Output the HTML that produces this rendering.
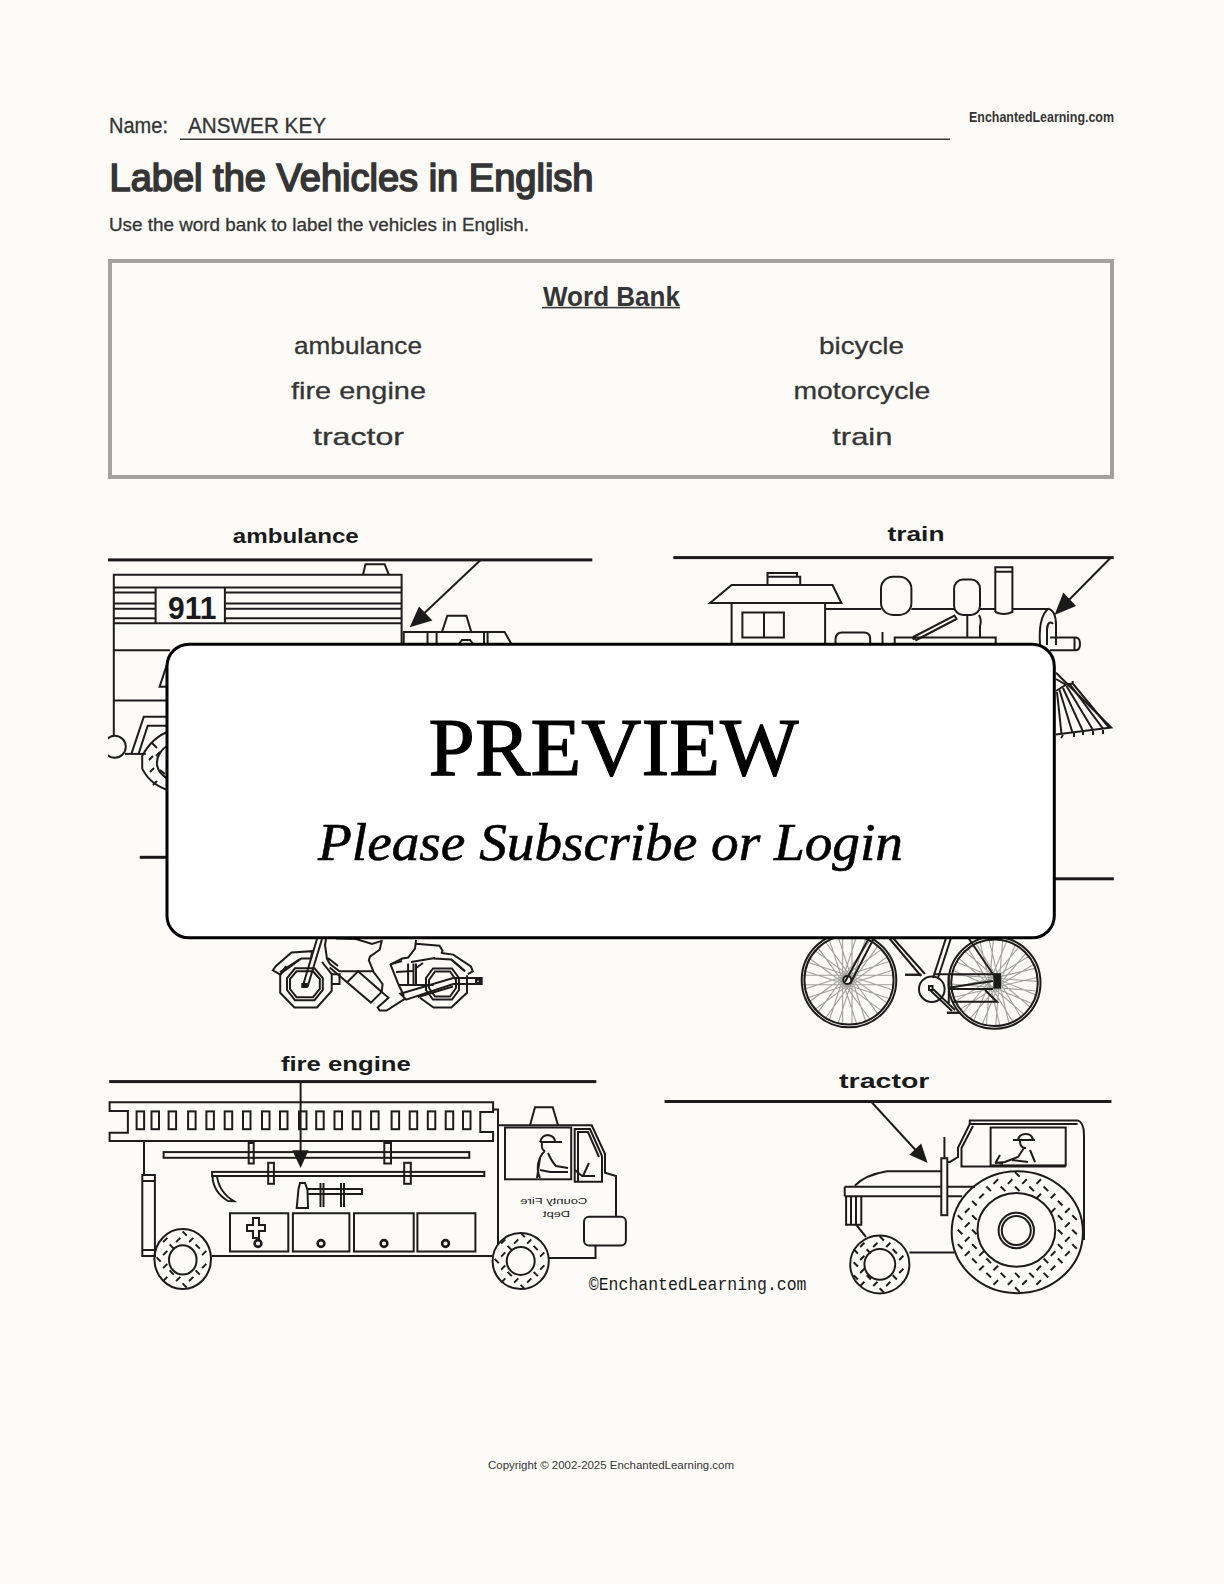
<!DOCTYPE html>
<html>
<head>
<meta charset="utf-8">
<style>
html,body{margin:0;padding:0;background:#fcfbf7;}
body{width:1224px;height:1584px;overflow:hidden;position:relative;font-family:"Liberation Sans",sans-serif;}
svg{position:absolute;left:0;top:0;}
.t{font-family:"Liberation Sans",sans-serif;fill:#353535;}
.r{stroke:#353535;stroke-width:0.3;}
.d{fill:none;stroke:#1c1c1c;stroke-width:2;}
</style>
</head>
<body>
<svg width="1224" height="1584" viewBox="0 0 1224 1584">
<!-- header -->
<text class="t r" x="109" y="132.7" font-size="21.4" textLength="59" lengthAdjust="spacingAndGlyphs">Name:</text>
<text class="t r" x="188" y="132.7" font-size="21.4" textLength="138" lengthAdjust="spacingAndGlyphs">ANSWER KEY</text>
<rect x="180" y="138.5" width="770" height="1.5" fill="#3a3a3a"/>
<text class="t" x="969" y="122.4" font-size="14" font-weight="bold" textLength="145" lengthAdjust="spacingAndGlyphs">EnchantedLearning.com</text>
<text class="t" x="109.5" y="190.9" font-size="38.5" stroke="#353535" stroke-width="1.7" textLength="484" lengthAdjust="spacingAndGlyphs">Label the Vehicles in English</text>
<text class="t r" x="109" y="230.7" font-size="17.7" textLength="420" lengthAdjust="spacingAndGlyphs">Use the word bank to label the vehicles in English.</text>

<!-- word bank -->
<rect x="110" y="261" width="1002" height="216" fill="none" stroke="#a3a29e" stroke-width="4"/>
<text class="t" x="543" y="306.3" font-size="28" font-weight="bold" textLength="137" lengthAdjust="spacingAndGlyphs">Word Bank</text>
<rect x="542" y="306.8" width="138" height="1.6" fill="#3a3a3a"/>
<text class="t r" x="294" y="354.4" font-size="24" textLength="128" lengthAdjust="spacingAndGlyphs">ambulance</text>
<text class="t r" x="291" y="399.3" font-size="24" textLength="135" lengthAdjust="spacingAndGlyphs">fire engine</text>
<text class="t r" x="313" y="444.5" font-size="24" textLength="91" lengthAdjust="spacingAndGlyphs">tractor</text>
<text class="t r" x="819" y="354.4" font-size="24" textLength="85" lengthAdjust="spacingAndGlyphs">bicycle</text>
<text class="t r" x="793.4" y="399.3" font-size="24" textLength="137" lengthAdjust="spacingAndGlyphs">motorcycle</text>
<text class="t r" x="832.3" y="444.5" font-size="24" textLength="60" lengthAdjust="spacingAndGlyphs">train</text>

<!-- DRAWINGS -->
<g id="drawings">

<!-- ambulance -->
<text x="232.8" y="543.1" font-size="21" font-weight="bold" fill="#1a1a1a" textLength="126" lengthAdjust="spacingAndGlyphs">ambulance</text>
<rect x="108" y="558.4" width="484.3" height="3" fill="#1a1a1a"/>
<line class="d" x1="480.6" y1="560" x2="416" y2="621" stroke-width="1.6"/>
<polygon points="409.7,627.2 419,606.6 432.4,620.4" fill="#1a1a1a"/>
<clipPath id="cl"><rect x="108" y="500" width="1006" height="900"/></clipPath>
<g clip-path="url(#cl)">
<path class="d" d="M113.8,735.6 V574.8 H401.6 V650"/>
<path class="d" d="M363,574.8 L365.5,564.2 H384.6 L388.9,574.8"/>
<path class="d" d="M113.8,587.5 H401.6 M113.8,592.4 H155.6 M224.9,592.4 H401.6 M113.8,603.5 H155.6 M224.9,603.5 H401.6 M113.8,608.8 H155.6 M224.9,608.8 H401.6 M113.8,618.3 H155.6 M224.9,618.3 H401.6 M113.8,623.2 H401.6"/>
<path class="d" d="M155.6,587.5 V623.2 M224.9,587.5 V623.2"/>
<text x="168" y="618.8" font-size="31.5" font-weight="bold" fill="#1a1a1a" textLength="48.4" lengthAdjust="spacingAndGlyphs">911</text>
<path class="d" d="M113.8,650.2 H170 M113.8,700.4 H170"/>
<path class="d" d="M170,655 L159.6,686.7 H170"/>
<path class="d" d="M170,716.7 H143.8 L131.4,753.9 M170,725.8 H147.7 L138.6,753.9"/>
<circle class="d" cx="114.8" cy="746.8" r="11"/>
<path class="d" d="M125,753.9 H145.8"/>
<path class="d" d="M170,731 C158,735 148,745 142.2,756 V768.6 C148,780 156,786 170,791"/>
<path class="d" d="M170,744 C161,749 156,757 157,765 C158,771 162,776 170,780"/>
<path class="d" d="M152,743 l5,5 M160,752 l-4,4 M149,760 l4,-4 M150,772 l4,-4 M153,785 l4,-4 M160,770 l5,4"  stroke-width="1.3"/>
<path class="d" d="M403.7,645 V632.1 H504.6 L512,645 M427.5,632.1 V645 M436.6,632.1 V645 M484,632.1 V645 M487.6,632.1 V645"/>
<path class="d" d="M442,632.1 L447.3,615.8 H466.4 L471.3,632.1"/>
<path class="d" d="M458,645 L462,640 H470 L474,645" stroke-width="1.5"/>
</g>
</g>

<g clip-path="url(#cl)">
<!-- train -->
<text x="887.5" y="541.4" font-size="21" font-weight="bold" fill="#1a1a1a" textLength="57" lengthAdjust="spacingAndGlyphs">train</text>
<rect x="673.3" y="556.1" width="440.4" height="3" fill="#1a1a1a"/>
<line class="d" x1="1110.4" y1="558" x2="1060" y2="609" stroke-width="1.6"/>
<polygon points="1054.5,614.9 1063.3,592.4 1076,606" fill="#1a1a1a"/>
<path class="d" d="M710,603.1 L731.6,585.1 H832.5 L841.4,603.1 Z"/>
<path class="d" d="M767.5,585.1 V576.7 H800.2 V585.1 Z M767.5,576.7 V573 H797 V576.7"/>
<path class="d" d="M731.6,603.1 V645 M825.1,603.1 V645"/>
<path class="d" d="M742.4,612.4 H783.9 V637.5 H742.4 Z M764,612.4 V637.5"/>
<path class="d" d="M825.1,609 H881 M911.4,609 H954.1 M980,609 H995.3 M1012.4,609 H1048"/>
<rect class="d" x="881" y="576.7" width="30.4" height="38.2" rx="12" ry="12"/>
<rect class="d" x="954.1" y="579.6" width="25.9" height="35.3" rx="9" ry="9"/>
<path class="d" d="M995.3,612 V567.3 H1012.4 V612 Q1004,616 995.3,612 M995.3,571.8 H1012.4"/>
<path class="d" d="M1048,608.6 C1054,610 1056,616 1056,625 V645 M1040,645 C1039,630 1041,615 1048,609 M1047,645 V630 C1047,624 1050,620 1053,624"/>
<path class="d" d="M1050,637.5 H1076 Q1080,638 1080,644 Q1080,650 1076,650.2 H1050 M1074.5,637.5 V650.2"/>
<path class="d" d="M835.5,645 V639 Q836,632.5 842,632.5 H864 Q870.2,632.5 870.2,639 V645"/>
<path class="d" d="M882.5,632 V645"/>
<path class="d" d="M894.7,645 V637.5 H995.7 V645"/>
<path class="d" d="M913.3,637 L954.5,615.5 L956.5,619 L915.3,640.5" stroke-width="1.5"/>
<circle cx="914" cy="638" r="2" fill="#1a1a1a"/>
<path class="d" d="M967.3,614.9 V637.5 M979,614.9 Q982,620 980,626 V637.5"/>
<g stroke-width="1.6">
<path class="d" d="M1056,672.7 L1111.2,727.5 L1056,734.6"/>
<path class="d" d="M1056,679 L1066.5,685.1 M1056,691 L1066.5,684.5 L1072.7,683.5 V681 M1072.7,683.5 L1109,727.5"/>
<path class="d" d="M1057,692 L1061.5,734 M1059.5,690 L1072.5,732.7 M1063,688 L1083,731.4 M1066.5,686 L1093,730 M1070,684.5 L1103,728.6"/>
<path class="d" d="M1063,735 l-2,3 M1074,733 v4 M1083,732 v3 M1093,731 v4 M1103,730 v4" stroke-width="1.5"/>
</g>
</g>
<g clip-path="url(#cl)">
<!-- motorcycle -->
<rect x="139.8" y="855.8" width="460" height="3" fill="#1a1a1a"/>
<g stroke-width="1.5">
<path class="d" d="M322,962 L331.7,974.2 V990.9 L317,1007.5 H294.4 L280.2,992.8 V975.2 L286,966"/>
<path class="d" d="M295,1000.2 H314.5 L322.8,990 V978 L314.5,968.3 H295 L287,978 V990 Z" stroke-width="1.3"/>
<path class="d" d="M296.5,997.2 H313 L319.8,989 V979 L313,971.3 H296.5 L290,979 V989 Z" stroke-width="1.3"/>
<path class="d" d="M272.8,970.3 L276,966 L291.5,952.6 L312.1,951.2 L311.1,958.5 L301.3,958.5 L279.7,974.2 Z" fill="#fcfbf7"/>
<path class="d" d="M280,972 L300,959" stroke-width="2.5"/>
<path class="d" d="M302.5,987 L317,939 M307.5,987 L322,939" fill="none"/>
<rect x="301.3" y="983" width="6.5" height="5" fill="#1a1a1a"/>
<path class="d" d="M326,939 L325,945 L327,959 L330,964 L339.5,971.3 H373.8 M328,958 L338,966"/>
<path class="d" d="M331.7,974.2 H339.5 V984 H331.7"/>
<path class="d" d="M329.7,967.4 L370.9,1002.6 L381.7,991.9 L358.1,971.3 L346.4,983"/>
<path class="d" d="M336,938.5 L356,939 L372,944 L381.7,940.9 L379.7,949.7 L369.9,956.6 L368.9,960.5 L373.8,972.3 L382.6,984 L381.7,991.9 L388.5,997.7 L377.7,1007.5 L379.7,1010.5 L386.6,1010.5 L405.2,998.7"/>
<path class="d" d="M416,939.9 L415,948.7 L408.1,957.5 L402.3,958.5 L390.5,964.4 L398.3,984 L404,996 M416,943.8 L439.5,945.8 L442.5,950.7 L441.5,953.6"/>
<path class="d" d="M390.5,964.4 L402,961 M411,962 L435,958"  stroke-width="2.5"/>
<path class="d" d="M396,972 L413,971 M416,968 L423,963"/>
<path class="d" d="M441.5,953.1 L453.2,954.6 L470.9,966.4 L472.8,971.3 L467.9,974.2 M433.6,958.5 L451.3,959.5 L465,971.3"/>
<path class="d" d="M451.3,959.5 L465,971.3" stroke-width="2.6"/>
<path class="d" d="M408.1,963.4 V984 M413.5,963.4 V984 M416,963.4 V984"/>
<path class="d" d="M398.3,985 H433.6" stroke-width="2.6"/>
<path class="d" d="M419.9,997.7 L433.6,1007.5 H451.3 L467,992.8 V975.2"/>
<path class="d" d="M426,990 V978 L433,968.5 H452 L459,978 V990 L452,999.5 H433 Z" stroke-width="1.3"/>
<path class="d" d="M429,988 V980 L435,971.5 H450 L456,980 V988 L450,996.5 H435 Z" stroke-width="1.3"/>
<path class="d" d="M400.3,993.8 L453.2,978.1 H481.7 V984 H453.2 L406.2,999.7 Z" fill="#fcfbf7"/>
<rect class="d" x="476" y="979.8" width="4" height="2.8" stroke-width="1.2"/>
<path class="d" d="M418,997 L453,986.5" stroke-width="1.3"/>
</g>
<!-- bicycle -->
<rect x="640" y="877.3" width="473.9" height="3" fill="#1a1a1a"/>
<g stroke="#a0a0a0" stroke-width="1.1" fill="none"><path d="M802.5,984.7L892.1,984.7M802.5,975.3L892.1,975.3M803.3,970.6L888.4,998.3M806.2,961.7L891.3,989.4M808.3,957.5L880.7,1010.1M813.9,949.9L886.3,1002.5M817.2,946.6L869.8,1019.0M824.8,941.0L877.4,1013.4M829.0,938.9L856.7,1024.0M837.9,936.0L865.6,1021.1M842.6,935.2L842.6,1024.8M852.0,935.2L852.0,1024.8M856.7,936.0L829.0,1021.1M865.6,938.9L837.9,1024.0M869.8,941.0L817.2,1013.4M877.4,946.6L824.8,1019.0M880.7,949.9L808.3,1002.5M886.3,957.5L813.9,1010.1M888.4,961.7L803.3,989.4M891.3,970.6L806.2,998.3"/><path d="M950.5,984.0L1037.7,991.0M951.3,974.6L1038.5,981.6M952.3,970.3L1033.1,1003.9M955.9,961.7L1036.7,995.3M958.2,957.9L1024.7,1014.8M964.3,950.8L1030.8,1007.7M967.7,947.9L1013.3,1022.6M975.7,943.0L1021.3,1017.7M979.8,941.3L1000.1,1026.4M988.9,939.2L1009.2,1024.3M993.3,938.8L986.3,1026.0M1002.7,939.6L995.7,1026.8M1007.0,940.6L973.4,1021.4M1015.6,944.2L982.0,1025.0M1019.4,946.5L962.5,1013.0M1026.5,952.6L969.6,1019.1M1029.4,956.0L954.7,1001.6M1034.3,964.0L959.6,1009.6M1036.0,968.1L950.9,988.4M1038.1,977.2L953.0,997.5"/></g>
<g>
<circle class="d" cx="849" cy="980" r="47.3" stroke-width="2.6"/>
<circle class="d" cx="849" cy="980" r="44.6" stroke-width="1.2" stroke="#666"/>
<circle class="d" cx="994.5" cy="982.8" r="46" stroke-width="2.6"/>
<circle class="d" cx="994.5" cy="982.8" r="43.3" stroke-width="1.2" stroke="#666"/>
<path class="d" d="M845,982 L869,938 M850,984 L874,938" stroke-width="1.5"/>
<circle class="d" cx="847.3" cy="980" r="4" stroke-width="1.5"/>
<path class="d" d="M889,938 L921,976 M893,938 L925,974" stroke-width="1.2"/>
<circle class="d" cx="931.8" cy="989.2" r="12.8" stroke-width="2"/>
<rect class="d" x="929" y="986" width="3.5" height="4" stroke-width="1.2"/>
<path class="d" d="M946,938 L933,978 M951,938 L938,978" stroke-width="2"/>
<path class="d" d="M934.4,974.2 H1001.1 M950,987.5 L993,981 M952.7,1001.7 H997 L985,990 M948.8,974 V1003" stroke-width="2.8"/><rect x="993.3" y="973.6" width="7.8" height="15" fill="#1a1a1a"/><path class="d" d="M950,989 H993" stroke-width="1.6"/>
<path class="d" d="M968.4,938 L993,974.2" stroke-width="2.8"/>
<path class="d" d="M905,974.8 H921.4 M946.9,1012.7 H960.6" stroke-width="3.5" stroke="#444"/>
<path class="d" d="M905,974.8 H921.4 M946.9,1012.7 H960.6" stroke-width="1.4" stroke="#fcfbf7"/>
<path class="d" d="M930,990 L952,1011 M933,989 L955,1010" stroke-width="1" stroke="#555"/>
</g>
</g>
<g clip-path="url(#cl)">
<!-- fire engine -->
<text x="280.9" y="1070.9" font-size="21" font-weight="bold" fill="#1a1a1a" textLength="130" lengthAdjust="spacingAndGlyphs">fire engine</text>
<rect x="109.2" y="1080.1" width="487.1" height="3" fill="#1a1a1a"/>
<line class="d" x1="300.6" y1="1082" x2="300.6" y2="1152" stroke-width="1.6"/>
<polygon points="292.2,1150.3 308.6,1150.3 300.6,1168.1" fill="#1a1a1a"/>
<g stroke-width="1.8">
<path class="d" d="M109.6,1102.2 H493.1 V1112 H480.3 V1131.9 H493.1 V1141.1 H109.6 V1132.7 H127.9 V1110.9 H109.6 Z"/>
<rect class="d" x="136.6" y="1111.4" width="7.5" height="17.8" stroke-width="1.6"/><rect class="d" x="151.5" y="1111.4" width="7.5" height="17.8" stroke-width="1.6"/><rect class="d" x="168.6" y="1111.4" width="7.5" height="17.8" stroke-width="1.6"/><rect class="d" x="188.1" y="1111.4" width="7.5" height="17.8" stroke-width="1.6"/><rect class="d" x="206.4" y="1111.4" width="7.5" height="17.8" stroke-width="1.6"/><rect class="d" x="224.7" y="1111.4" width="7.5" height="17.8" stroke-width="1.6"/><rect class="d" x="243.0" y="1111.4" width="7.5" height="17.8" stroke-width="1.6"/><rect class="d" x="262.0" y="1111.4" width="7.5" height="17.8" stroke-width="1.6"/><rect class="d" x="280.0" y="1111.4" width="7.5" height="17.8" stroke-width="1.6"/><rect class="d" x="299.0" y="1111.4" width="7.5" height="17.8" stroke-width="1.6"/><rect class="d" x="316.2" y="1111.4" width="7.5" height="17.8" stroke-width="1.6"/><rect class="d" x="334.5" y="1111.4" width="7.5" height="17.8" stroke-width="1.6"/><rect class="d" x="352.8" y="1111.4" width="7.5" height="17.8" stroke-width="1.6"/><rect class="d" x="371.1" y="1111.4" width="7.5" height="17.8" stroke-width="1.6"/><rect class="d" x="391.6" y="1111.4" width="7.5" height="17.8" stroke-width="1.6"/><rect class="d" x="409.7" y="1111.4" width="7.5" height="17.8" stroke-width="1.6"/><rect class="d" x="427.8" y="1111.4" width="7.5" height="17.8" stroke-width="1.6"/><rect class="d" x="445.7" y="1111.4" width="7.5" height="17.8" stroke-width="1.6"/><rect class="d" x="463.0" y="1111.4" width="7.5" height="17.8" stroke-width="1.6"/>
<path class="d" d="M144,1141 V1175"/>
<path class="d" d="M142.3,1256.1 V1174.9 H154.9 V1256.1 Z M142.3,1181 H154.9 M142.3,1250 H154.9"/>
<rect class="d" x="163.6" y="1152.1" width="305.7" height="5.7" stroke-width="1.6"/>
<rect class="d" x="248.7" y="1143" width="5" height="20.5" fill="#fcfbf7" stroke-width="1.6"/>
<rect class="d" x="384.3" y="1143" width="6.7" height="20.5" fill="#fcfbf7" stroke-width="1.6"/>
<rect class="d" x="212.1" y="1171.9" width="272.2" height="4.1" stroke-width="1.6"/>
<rect class="d" x="268.2" y="1162.8" width="5.7" height="21" fill="#fcfbf7" stroke-width="1.6"/>
<rect class="d" x="404.2" y="1162.8" width="6.6" height="21" fill="#fcfbf7" stroke-width="1.6"/>
<path class="d" d="M217,1176 Q219,1192 233.8,1201.2 L228,1201 Q213,1192 212.5,1176"/>
<path class="d" d="M296.7,1208 L298.5,1189 L300,1183 H305 L307.5,1190 L308,1208 Z M308,1189 H362 V1194 H308 M320.5,1183 V1207 M323.5,1183 V1207 M341,1183 V1207 M344,1183 V1207" stroke-width="1.6"/>
<path class="d" d="M230,1213.3 H288.3 V1251.5 H230 Z M292.9,1213.3 H349.4 V1251.5 H292.9 Z M354,1213.3 H413.7 V1251.5 H354 Z M417.4,1213.3 H475.4 V1251.5 H417.4 Z"/>
<path class="d" d="M253,1218 H259 V1225 H265 V1231 H259 V1238 H253 V1231 H247 V1225 H253 Z" stroke-width="1.5"/>
<circle cx="258" cy="1243.5" r="3.4" fill="#fcfbf7" stroke="#1a1a1a" stroke-width="2.6"/>
<circle cx="321" cy="1243.5" r="3.4" fill="#fcfbf7" stroke="#1a1a1a" stroke-width="2.6"/>
<circle cx="384" cy="1243.5" r="3.4" fill="#fcfbf7" stroke="#1a1a1a" stroke-width="2.6"/>
<circle cx="445.5" cy="1243.5" r="3.4" fill="#fcfbf7" stroke="#1a1a1a" stroke-width="2.6"/>
<path class="d" d="M155,1256.1 H156 M211.5,1256.1 H492.5"/>
<path class="d" d="M493.1,1109.4 H498 V1244 M498,1125.3 H591.7 L605,1154 V1172.7 L616,1176 V1216.8"/>
<path class="d" d="M574.7,1181.8 V1129 H590 L602,1156 V1181.8 Z M578,1181.8 V1132 H588 L599,1157" stroke-width="1.5"/>
<rect class="d" x="505" y="1127.5" width="66.2" height="51.8"/>
<path class="d" d="M530,1125.3 L535,1107.2 H552.7 L558,1125.3"/>
<path class="d" d="M540,1142 Q542,1135 548,1135 Q555,1136 555,1142 H562 M540,1142 H555 M542,1143 Q541,1150 545,1151 M545,1151 Q540,1155 538,1164 Q537,1172 540,1178 M548,1153 Q552,1162 556,1166 L568,1168 M540,1170 L550,1172 L568,1172 M540,1158 L537,1178 M575,1170 L582,1176 L595,1176 M589,1163 L583,1176" stroke-width="1.4"/>
<text transform="translate(587.3,1203.5) scale(-1,1)" font-size="9.5" fill="#1a1a1a" textLength="67" lengthAdjust="spacingAndGlyphs">County Fire</text>
<text transform="translate(570,1217) scale(-1,1)" font-size="9.5" fill="#1a1a1a" textLength="27" lengthAdjust="spacingAndGlyphs">Dept</text>
<rect class="d" x="584" y="1216.8" width="41.9" height="28.7" rx="5" ry="5"/>
<path class="d" d="M548.7,1258.1 H595.5 V1245.5"/>
<ellipse class="d" cx="182.7" cy="1259" rx="28.3" ry="30" fill="#fcfbf7"/>
<ellipse class="d" cx="182.8" cy="1259.9" rx="13.8" ry="14.7"/>
<circle class="d" cx="520.7" cy="1261" r="28.1" fill="#fcfbf7"/>
<circle class="d" cx="520.7" cy="1261" r="14"/>
<path class="d" stroke-width="1.2" d="M182.6,1231.4L186.8,1235.6M163.1,1242.1L167.3,1237.9M176.1,1242.1L180.3,1237.9M189.1,1242.1L193.3,1237.9M169.6,1244.4L173.8,1248.6M195.6,1244.4L199.8,1248.6M163.1,1255.1L167.3,1250.9M202.1,1255.1L206.3,1250.9M156.6,1257.4L160.8,1261.6M163.1,1268.1L167.3,1263.9M202.1,1268.1L206.3,1263.9M169.6,1270.4L173.8,1274.6M195.6,1270.4L199.8,1274.6M163.1,1281.1L167.3,1276.9M176.1,1281.1L180.3,1276.9M189.1,1281.1L193.3,1276.9M182.6,1283.4L186.8,1287.6"/>
<path class="d" stroke-width="1.2" d="M520.6,1232.9L524.8,1237.1M501.1,1243.6L505.3,1239.4M514.1,1243.6L518.3,1239.4M527.1,1243.6L531.3,1239.4M507.6,1245.9L511.8,1250.1M533.6,1245.9L537.8,1250.1M501.1,1256.6L505.3,1252.4M540.1,1256.6L544.3,1252.4M494.6,1258.9L498.8,1263.1M501.1,1269.6L505.3,1265.4M540.1,1269.6L544.3,1265.4M507.6,1271.9L511.8,1276.1M533.6,1271.9L537.8,1276.1M501.1,1282.6L505.3,1278.4M514.1,1282.6L518.3,1278.4M527.1,1282.6L531.3,1278.4M520.6,1284.9L524.8,1289.1"/>
</g>
<text x="588.8" y="1289.8" font-family="Liberation Mono" font-size="18.5" fill="#1a1a1a" textLength="217.7" lengthAdjust="spacingAndGlyphs">©EnchantedLearning.com</text>

<!-- tractor -->
<text x="839" y="1088.4" font-size="21" font-weight="bold" fill="#1a1a1a" textLength="90.5" lengthAdjust="spacingAndGlyphs">tractor</text>
<rect x="664.5" y="1100" width="447" height="3" fill="#1a1a1a"/>
<line class="d" x1="871.5" y1="1102" x2="921" y2="1156" stroke-width="1.6"/>
<polygon points="927.6,1163 909.4,1154.8 921.2,1143.4" fill="#1a1a1a"/>
<g stroke-width="1.8">
<path class="d" d="M969.8,1124 V1120.4 H1077.6 Q1084,1122 1084,1135 V1240"/>
<path class="d" d="M969.8,1124 H1077.6"/>
<path class="d" d="M969.8,1124 L958,1147.7 V1157 L950,1161.9 H947.3 M973,1126 L961.5,1148 V1166.6 H1065.7"/>
<rect class="d" x="990.6" y="1127.5" width="75.1" height="37.9"/>
<path class="d" d="M1018,1140 Q1019,1134 1026,1134 Q1032,1134 1033,1140 M1013,1140 H1035 M1020,1141 Q1020,1148 1026,1148 M1024,1148 L1018,1157 L1005,1162 L995,1163 M1030,1150 L1035,1162 M1000,1155 L996,1162 L1003,1164 M1012,1160 L1028,1162" stroke-width="1.4"/>
<rect class="d" x="941.3" y="1158.3" width="6" height="56.9" fill="#fcfbf7"/>
<path class="d" d="M944.4,1137 V1158.3" stroke-width="2"/>
<path class="d" d="M854.9,1185.6 Q865,1175 886.9,1171.3 H941.3"/>
<path class="d" d="M844.7,1186.7 H941.3 M947.3,1186.7 H975 M844.7,1196.2 H941.3 M947.3,1196.2 H962 M844.7,1186.7 V1196.2"/>
<path class="d" d="M846.1,1196.2 V1224.7 H861.3 V1196.2 M851,1196.2 V1224.7 M856,1196.2 V1224.7" stroke-width="1.5"/>
<path class="d" d="M856,1224.7 L866,1237"/>
<path class="d" d="M909.4,1252.4 H954.4"/>
<ellipse class="d" cx="879.8" cy="1264.4" rx="29.6" ry="29" fill="#fcfbf7"/>
<circle class="d" cx="879.8" cy="1264.4" r="15.4"/>
<ellipse class="d" cx="1017.3" cy="1232.2" rx="65.6" ry="61" fill="#fcfbf7"/>
<ellipse class="d" cx="1016.4" cy="1229.9" rx="38.9" ry="36.9" fill="#fcfbf7"/>
<circle class="d" cx="1016.3" cy="1230.5" r="17.7"/>
<circle class="d" cx="1016.3" cy="1230.5" r="14.5"/>
<path class="d" stroke-width="1.2" d="M879.7,1236.3L883.9,1240.5M860.2,1247.0L864.4,1242.8M873.2,1247.0L877.4,1242.8M886.2,1247.0L890.4,1242.8M853.7,1249.3L857.9,1253.5M866.7,1249.3L870.9,1253.5M892.7,1249.3L896.9,1253.5M860.2,1260.0L864.4,1255.8M899.2,1260.0L903.4,1255.8M853.7,1262.3L857.9,1266.5M860.2,1273.0L864.4,1268.8M899.2,1273.0L903.4,1268.8M853.7,1275.3L857.9,1279.5M866.7,1275.3L870.9,1279.5M892.7,1275.3L896.9,1279.5M860.2,1286.0L864.4,1281.8M873.2,1286.0L877.4,1281.8M886.2,1286.0L890.4,1281.8M879.7,1288.3L883.9,1292.5"/>
<path class="d" stroke-width="1.2" d="M1015.0,1172.1L1019.6,1176.7M993.5,1183.9L998.1,1179.3M1007.9,1183.9L1012.4,1179.3M1022.2,1183.9L1026.8,1179.3M1036.5,1183.9L1041.0,1179.3M986.4,1186.5L991.0,1191.1M1000.7,1186.5L1005.3,1191.1M1015.0,1186.5L1019.6,1191.1M1029.3,1186.5L1033.9,1191.1M1043.6,1186.5L1048.2,1191.1M979.2,1198.3L983.8,1193.7M1036.5,1198.3L1041.0,1193.7M1050.8,1198.3L1055.3,1193.7M972.1,1200.9L976.7,1205.5M1057.9,1200.9L1062.5,1205.5M964.9,1212.7L969.5,1208.1M1050.8,1212.7L1055.3,1208.1M1065.1,1212.7L1069.7,1208.1M957.8,1215.3L962.4,1219.9M972.1,1215.3L976.7,1219.9M1057.9,1215.3L1062.5,1219.9M1072.2,1215.3L1076.8,1219.9M964.9,1227.1L969.5,1222.5M1065.1,1227.1L1069.7,1222.5M957.8,1229.7L962.4,1234.3M972.1,1229.7L976.7,1234.3M1057.9,1229.7L1062.5,1234.3M1072.2,1229.7L1076.8,1234.3M964.9,1241.5L969.5,1236.9M1065.1,1241.5L1069.7,1236.9M957.8,1244.1L962.4,1248.7M972.1,1244.1L976.7,1248.7M1057.9,1244.1L1062.5,1248.7M1072.2,1244.1L1076.8,1248.7M964.9,1255.9L969.5,1251.3M979.2,1255.9L983.8,1251.3M1050.8,1255.9L1055.3,1251.3M1065.1,1255.9L1069.7,1251.3M972.1,1258.5L976.7,1263.1M986.4,1258.5L991.0,1263.1M1043.6,1258.5L1048.2,1263.1M1057.9,1258.5L1062.5,1263.1M979.2,1270.3L983.8,1265.7M993.5,1270.3L998.1,1265.7M1036.5,1270.3L1041.0,1265.7M1050.8,1270.3L1055.3,1265.7M986.4,1272.9L991.0,1277.5M1000.7,1272.9L1005.3,1277.5M1015.0,1272.9L1019.6,1277.5M1029.3,1272.9L1033.9,1277.5M1043.6,1272.9L1048.2,1277.5M993.5,1284.7L998.1,1280.1M1007.9,1284.7L1012.4,1280.1M1022.2,1284.7L1026.8,1280.1M1036.5,1284.7L1041.0,1280.1M1015.0,1287.3L1019.6,1291.9"/>
</g>
</g>
<!-- preview -->
<rect x="167" y="644.2" width="887.3" height="293.6" rx="22" ry="22" fill="#ffffff" stroke="#000" stroke-width="3"/>
<text x="428.6" y="775" font-family="Liberation Serif" font-size="83.5" fill="#000" stroke="#000" stroke-width="1.2" textLength="370" lengthAdjust="spacingAndGlyphs">PREVIEW</text>
<text x="318" y="859.5" font-family="Liberation Serif" font-style="italic" font-size="52" fill="#000" stroke="#000" stroke-width="0.6" textLength="585" lengthAdjust="spacingAndGlyphs">Please Subscribe or Login</text>

<!-- footer -->
<text class="t" x="488" y="1469" font-size="11.5" textLength="246" lengthAdjust="spacingAndGlyphs">Copyright © 2002-2025 EnchantedLearning.com</text>
</svg>
</body>
</html>
